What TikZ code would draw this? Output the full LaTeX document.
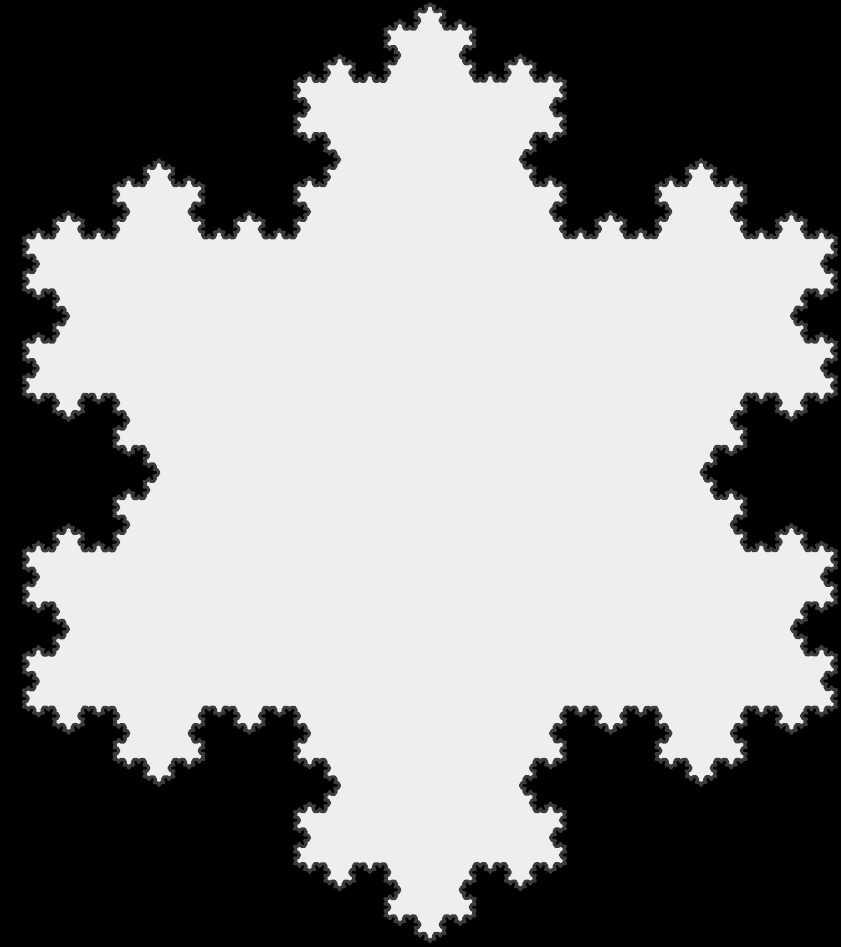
\documentclass[tikz,border=0pt]{standalone}
\usetikzlibrary{decorations.fractals}

\definecolor{flockenrand}{HTML}{3C3C3C}
\definecolor{flockenfill}{HTML}{EEEEEE}

\begin{document}
\begin{tikzpicture}
	%\draw [lightgray](0,0) grid (17,19);
	
	% Zeichnet den schwarzen Hintergrund
	\fill[black] (0,0) rectangle (16.82,18.94);
	\useasboundingbox (0,0) rectangle (16.82,18.94);
	
	% Ecken des Ausgangsdreiecks (Mitte bei (8.6,9.49), Radius 9.39)
	\coordinate (oben) at (8.6,18.88);
	\coordinate (rechts) at (16.732,4.795);
	\coordinate (links) at (0.468,4.795);
	
	% Zeichnet die Koch-Schneeflocke (fuenfmal dekoriert, im Uhrzeigersinn)
	\draw[line width=0.06cm, flockenrand, fill=flockenfill, line join=round, decoration=Koch snowflake]
		decorate{decorate{decorate{decorate{decorate{
			(oben) -- (rechts) -- (links) -- (oben)
		}}}}};
	
\end{tikzpicture}
\end{document}
